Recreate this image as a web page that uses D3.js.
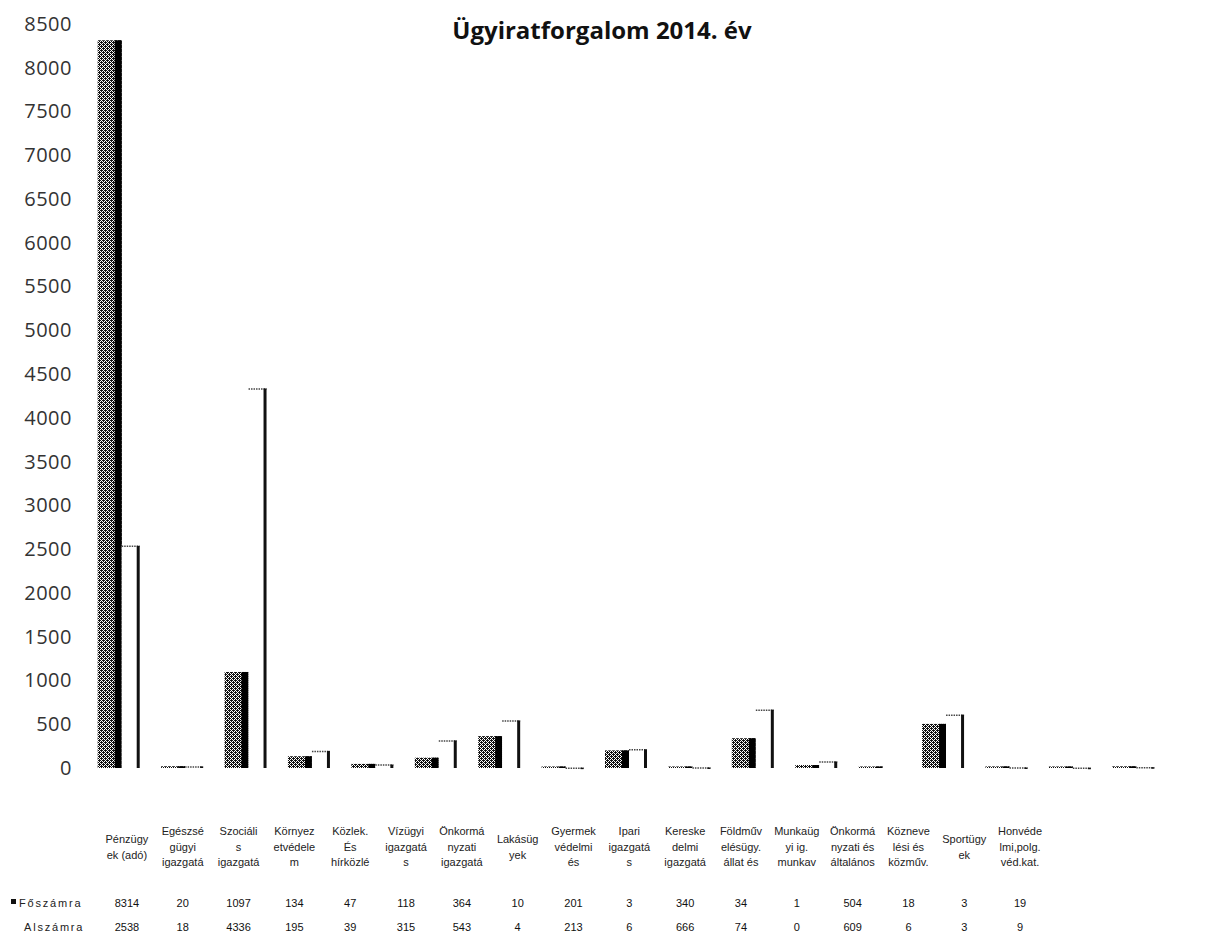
<!DOCTYPE html>
<html>
<head>
<meta charset="utf-8">
<script src="https://cdn.jsdelivr.net/npm/d3@7/dist/d3.min.js"></script>
<style>
  body { margin: 0; background: #fff; }
  svg { display: block; }
</style>
</head>
<body>
<div id="chart"></div>
<script>
// data
let categories = ["Pénzügyek (adó)", "Egészségügyi igazgatás", "Szociális igazgatás", "Környezetvédelem",
    "Közlek. és hírközlés", "Vízügyi igazgatás", "Önkormányzati igazgatás", "Lakásügyek",
    "Gyermekvédelmi és", "Ipari igazgatás", "Kereskedelmi igazgatás", "Földművelésügy, állat és",
    "Munkaügyi ig. munkav", "Önkormányzati és általános", "Köznevelési és közműv.", "Sportügyek",
    "Honvédelmi, polg. véd.kat."];
let headerLines = [["Pénzügy", "ek (adó)"], ["Egészsé", "gügyi", "igazgatá"], ["Szociáli", "s", "igazgatá"],
    ["Környez", "etvédele", "m"], ["Közlek.", "És", "hírközlé"], ["Vízügyi", "igazgatá", "s"],
    ["Önkormá", "nyzati", "igazgatá"], ["Lakásüg", "yek"], ["Gyermek", "védelmi", "és"],
    ["Ipari", "igazgatá", "s"], ["Kereske", "delmi", "igazgatá"], ["Földműv", "elésügy.", "állat és"],
    ["Munkaüg", "yi ig.", "munkav"], ["Önkormá", "nyzati és", "általános"], ["Közneve", "lési és", "közműv."],
    ["Sportügy", "ek"], ["Honvéde", "lmi,polg.", "véd.kat."]];
let foszamra = [8314, 20, 1097, 134, 47, 118, 364, 10, 201, 3, 340, 34, 1, 504, 18, 3, 19];
let alszamra = [2538, 18, 4336, 195, 39, 315, 543, 4, 213, 6, 666, 74, 0, 609, 6, 3, 9];
let seriesNames = ["Főszámra", "Alszámra"];
let yTicks = d3.range(0, 8501, 500);

let width = 1213, height = 948;

let svg = d3.select('#chart')
    .append('svg')
    .attr('width', width)
    .attr('height', height);

// dithered fill for the main series (scan look)
let defs = svg.append('defs');
let pat = defs.append('pattern')
    .attr('id', 'dither')
    .attr('patternUnits', 'userSpaceOnUse')
    .attr('width', 4)
    .attr('height', 4);
pat.append('rect').attr('width', 4).attr('height', 4).attr('fill', '#fff');
[[0, 0], [2, 0], [1, 1], [3, 1], [0, 2], [2, 2], [1, 3], [3, 3], [3, 0], [1, 2]].forEach(function (p) {
    pat.append('rect').attr('x', p[0]).attr('y', p[1]).attr('width', 1).attr('height', 1).attr('fill', '#111');
});

let y = d3.scaleLinear()
    .domain([0, 8500])
    .range([768, 24]);

let x = d3.scaleBand()
    .domain(categories)
    .range([87, 1165]);

let xTable = d3.scaleBand()
    .domain(categories)
    .range([99, 1048]);

// title
svg.append('text')
    .attr('x', 602)
    .attr('y', 39)
    .attr('text-anchor', 'middle')
    .style('font-family', '"Open Sans", sans-serif')
    .style('font-weight', 'bold')
    .style('font-size', '24px')
    .attr('fill', '#111')
    .text('Ügyiratforgalom 2014. év');

// y axis
let yAxis = d3.axisLeft(y)
    .tickValues(yTicks)
    .tickSize(0)
    .tickPadding(3)
    .tickFormat(d3.format('d'));
let gy = svg.append('g')
    .attr('transform', 'translate(75,0)')
    .call(yAxis);
gy.select('.domain').remove();
gy.selectAll('text')
    .style('font-family', '"Open Sans", sans-serif')
    .style('font-size', '20px')
    .style('letter-spacing', '0.5px')
    .attr('fill', '#333');

// bars
let mainW = 24, altW = 18;
categories.forEach(function (c, i) {
    let cx = x(c) + x.bandwidth() / 2;
    let v1 = foszamra[i], v2 = alszamra[i];

    // Főszámra
    let top1 = y(v1);
    let h1 = Math.max(y(0) - top1, 1.5);
    svg.append('rect')
        .attr('x', cx - mainW + 3)
        .attr('y', y(0) - h1)
        .attr('width', mainW)
        .attr('height', h1)
        .attr('fill', 'url(#dither)');
    svg.append('rect')
        .attr('x', cx - 4)
        .attr('y', y(0) - h1)
        .attr('width', 7)
        .attr('height', h1)
        .attr('fill', '#000');

    // Alszámra
    if (v2 > 0) {
        let top2 = y(v2);
        let x0 = cx + 3, x1 = cx + 3 + altW;
        svg.append('rect')
            .attr('x', x0)
            .attr('y', top2)
            .attr('width', altW)
            .attr('height', y(0) - top2)
            .attr('fill', '#fff');
        svg.append('line')
            .attr('x1', x0).attr('x2', x1)
            .attr('y1', top2 + 0.5).attr('y2', top2 + 0.5)
            .attr('stroke', '#444')
            .attr('stroke-width', 1.5)
            .attr('stroke-dasharray', '1.5,1');
        svg.append('rect')
            .attr('x', x1 - 3)
            .attr('y', top2)
            .attr('width', 3)
            .attr('height', Math.max(y(0) - top2, 1.5))
            .attr('fill', '#111');
    }
});

// data table
let tfont = '"Liberation Sans", Arial, sans-serif';
categories.forEach(function (c, i) {
    let tx = xTable(c) + xTable.bandwidth() / 2;
    let lines = headerLines[i];
    let startY = lines.length === 3 ? 835 : 843;
    lines.forEach(function (l, k) {
        svg.append('text')
            .attr('x', tx)
            .attr('y', startY + k * 15.5)
            .attr('text-anchor', 'middle')
            .style('font-family', tfont)
            .style('font-size', '11px')
            .attr('fill', '#222')
            .text(l);
    });
    [foszamra[i], alszamra[i]].forEach(function (v, r) {
        svg.append('text')
            .attr('x', tx)
            .attr('y', 907 + r * 24)
            .attr('text-anchor', 'middle')
            .style('font-family', tfont)
            .style('font-size', '11px')
            .attr('fill', '#111')
            .text(v);
    });
});

// row labels
seriesNames.forEach(function (s, r) {
    svg.append('text')
        .attr('x', r === 0 ? 19 : 24)
        .attr('y', 907 + r * 24)
        .style('font-family', tfont)
        .style('font-size', '11px')
        .style('letter-spacing', '1.8px')
        .attr('fill', '#222')
        .text(s);
});
svg.append('rect')
    .attr('x', 11)
    .attr('y', 899)
    .attr('width', 5)
    .attr('height', 5)
    .attr('fill', '#111');
</script>
</body>
</html>
